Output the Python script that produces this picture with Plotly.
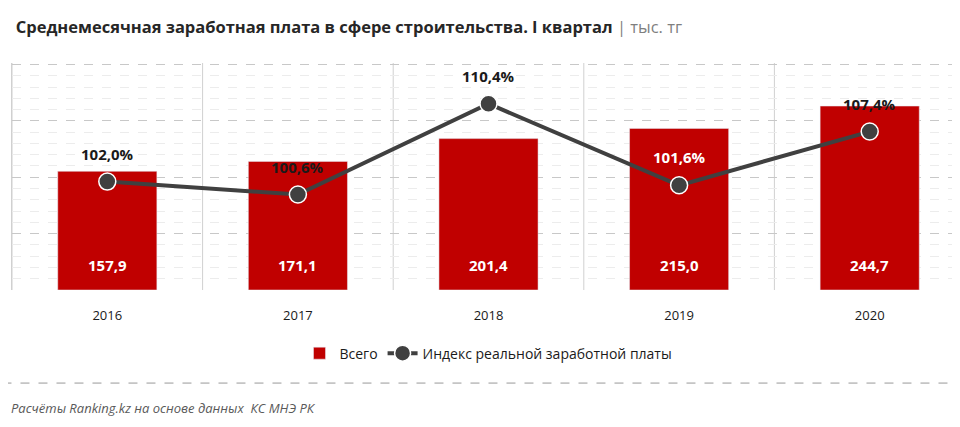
import plotly.graph_objects as go

years = ["2016", "2017", "2018", "2019", "2020"]
salary = [157.9, 171.1, 201.4, 215.0, 244.7]
salary_text = ["157,9", "171,1", "201,4", "215,0", "244,7"]
index_real = [102.0, 100.6, 110.4, 101.6, 107.4]
index_text = ["102,0%", "100,6%", "110,4%", "101,6%", "107,4%"]

RED = "#c00000"
DARK = "#404040"
x = list(range(len(years)))

fig = go.Figure()
fig.add_trace(go.Bar(
    x=x, y=salary, name="Всего", marker_color=RED, width=0.52,
))
for i, t in enumerate(salary_text):
    fig.add_annotation(x=i, y=0, text=f"<b>{t}</b>", showarrow=False, yanchor="middle",
                       yshift=25, font=dict(size=15, color="white", family="Open Sans"))
fig.add_trace(go.Scatter(
    x=x, y=index_real, name="Индекс реальной заработной платы", yaxis="y2",
    mode="lines+markers", line=dict(color=DARK, width=4),
    marker=dict(size=17, color=DARK, line=dict(color="white", width=1.5)),
))
for i, (v, t) in enumerate(zip(index_real, index_text)):
    col = "white" if i == 3 else "#1a1a1a"
    fig.add_annotation(x=i, y=v, yref="y2", text=f"<b>{t}</b>", showarrow=False,
                       yshift=28, font=dict(size=15, color=col, family="Open Sans"))

for k in range(len(years) + 1):
    fig.add_shape(type="line", xref="x", yref="paper", x0=k - 0.5, x1=k - 0.5,
                  y0=0, y1=1, line=dict(color="#d0d0d0", width=1), layer="below")

fig.add_shape(type="line", xref="paper", yref="paper", x0=-0.01, x1=1.0,
              y0=-0.41, y1=-0.41, line=dict(color="#999999", width=1, dash="dash"))

fig.update_layout(
    width=960, height=427,
    margin=dict(l=4, r=3, t=55, b=145),
    plot_bgcolor="white", paper_bgcolor="white",
    font=dict(family="Open Sans", color="#1a1a1a"),
    title=dict(text="<b>Среднемесячная заработная плата в сфере строительства. I квартал</b>"
                    " <span style='color:#7f7f7f'>| тыс. тг</span>",
               x=0.008, y=0.955, xanchor="left", yanchor="middle",
               font=dict(size=16.5, color="#262626")),
    xaxis=dict(tickvals=x, ticktext=years, range=[-0.5, 4.5], showgrid=False,
               zeroline=False, tickfont=dict(size=13), ticks="", showline=False,
               ticklabelstandoff=16),
    yaxis=dict(range=[0, 302], dtick=75, showticklabels=False, zeroline=False,
               gridcolor="#c8c8c8", griddash="dash",
               minor=dict(dtick=15, showgrid=True, gridcolor="#ececec"),
               showline=True, linecolor="#d0d0d0"),
    yaxis2=dict(range=[90.3, 114.8], overlaying="y", showticklabels=False,
                showgrid=False, zeroline=False),
    legend=dict(orientation="h", x=0.5, xanchor="center", y=-0.28, yanchor="middle",
                font=dict(size=14)),
    bargap=0.5,
)
fig.add_annotation(xref="paper", yref="paper", x=-0.003, y=-0.52, xanchor="left",
                   yanchor="middle", showarrow=False,
                   text="<i>Расчёты Ranking.kz на основе данных  КС МНЭ РК</i>",
                   font=dict(size=13, color="#595959"))

fig.write_html("out.html")
